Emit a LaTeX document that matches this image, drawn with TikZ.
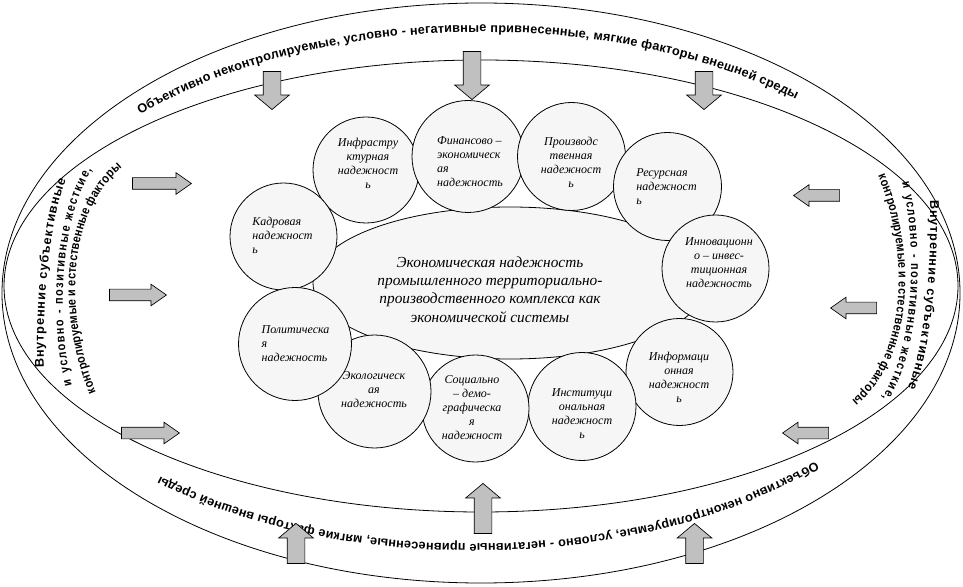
\documentclass[tikz,border=0pt]{standalone}
\usepackage{fontspec}
\setmainfont{Liberation Serif}
\newfontfamily\outerfont{Liberation Sans}
\newfontfamily\outernarrow{Liberation Sans}[FakeStretch=0.86]
\usepackage{tikz}
\usetikzlibrary{positioning,shapes.geometric,shapes.arrows,decorations.text}
\definecolor{ovalgray}{RGB}{246,246,246}
\definecolor{arrowgray}{RGB}{192,192,192}
\newcommand\rimfont{\outerfont\bfseries\fontsize{9.5}{11}\selectfont}
\newcommand\rimnarrow{\outernarrow\bfseries\fontsize{9.5}{11}\selectfont}

\begin{document}
\begin{tikzpicture}[x=0.75pt, y=0.75pt,
    rim/.style={line width=0.6pt},
    rimtext/.style 2 args={decorate, decoration={text along path, text align=fit to path, text={|#1|#2}}},
    coreoval/.style={ellipse, draw, line width=0.6pt, fill=ovalgray, inner sep=0pt, minimum width=295.5pt, minimum height=114pt},
    oval/.style={circle, draw, line width=0.6pt, fill=ovalgray, inner sep=0pt, minimum size=#1},
    lbl/.style={font=\itshape\fontsize{9}{10.5}\selectfont, align=center, inner sep=0pt},
    coretext/.style={font=\itshape\fontsize{11.5}{13.7}\selectfont, align=center, inner sep=0pt},
    vblock/.style={single arrow, draw, line width=0.5pt, fill=arrowgray, inner xsep=0pt, inner ysep=6.375pt, anchor=tip,
        single arrow head extend=6.375pt, single arrow tip angle=100, minimum height=#1},
    hblock/.style={single arrow, draw, line width=0.5pt, fill=arrowgray, inner xsep=0pt, inner ysep=4.125pt, anchor=tip,
        single arrow head extend=3.75pt, single arrow tip angle=70, minimum height=#1}]
  \useasboundingbox (0,0) rectangle (963,586);

  \draw[rim] (481,293) ellipse [x radius=359.25pt, y radius=217.5pt];
  \draw[rim] (481,300) ellipse [x radius=357.75pt, y radius=169.5pt];

  \path[rimtext={\rimfont}{Объективно неконтролируемые, условно - негативные привнесенные, мягкие факторы внешней среды}]
    (140.3,471) arc[start angle=137.3, end angle=47.7, x radius=348.75pt, y radius=193.5pt];
  \path[rimtext={\rimfont}{Объективно неконтролируемые, условно - негативные привнесенные, мягкие факторы внешней среды},
    rotate around={180:(478,298)}]
    (140.3,471) arc[start angle=137.3, end angle=47.7, x radius=348.75pt, y radius=193.5pt];

  \path[rimtext={\rimfont}{Внутренние субъективные}] (44,218) .. controls (42,286) and (50,366) .. (66,406);
  \path[rimtext={\rimnarrow}{и условно - позитивные жесткие,}] (72,201) .. controls (56,266) and (60,366) .. (92,416);
  \path[rimtext={\rimnarrow}{контролируемые и естественные факторы}] (96,194) .. controls (66,266) and (64,371) .. (122,418);
  \begin{scope}[rotate around={180:(487,302)}]
    \path[rimtext={\rimfont}{Внутренние субъективные}] (44,218) .. controls (42,286) and (50,366) .. (66,406);
    \path[rimtext={\rimnarrow}{и условно - позитивные жесткие,}] (72,201) .. controls (56,266) and (60,366) .. (92,416);
    \path[rimtext={\rimnarrow}{контролируемые и естественные факторы}] (96,194) .. controls (66,266) and (64,371) .. (122,418);
  \end{scope}

  \node[coreoval] (core) at (510,303) {};
  \node[coretext] (core-t) at (490,296.5) {Экономическая надежность\\промышленного территориально-\\производственного комплекса как\\экономической системы};

  \node[oval=79.5pt] (infra) at (366,416) {};
  \node[oval=80.25pt] (kadr) at (283.5,349.5) {};
  \node[oval=84pt] (fin) at (468,429.5) {};
  \node[oval=81pt] (proizv) at (571.5,429.5) {};
  \node[oval=81pt] (resurs) at (667.5,399.5) {};
  \node[oval=80.25pt] (innov) at (715.5,317.5) {};
  \node[oval=80.25pt] (inform) at (679.5,214) {};
  \node[oval=81pt] (instit) at (582,179.5) {};
  \node[oval=80.25pt] (social) at (475.5,177.5) {};
  \node[oval=84.75pt] (ecolog) at (374.5,194.5) {};
  \node[oval=84.75pt] (polit) at (295,242) {};

  \node[lbl, align=left] (kadr-t) at (282.5,351) {Кадровая\\надежност\\ь};
  \node[lbl] (infra-t) at (368,423) {Инфрастру\\ктурная\\надежност\\ь};
  \node[lbl, align=left] (fin-t) at (470,424.5) {Финансово –\\экономическ\\ая\\надежность};
  \node[lbl] (proizv-t) at (571,424) {Производс\\твенная\\надежност\\ь};
  \node[lbl, align=left] (resurs-t) at (666.5,399.5) {Ресурсная\\надежност\\ь};
  \node[lbl] (innov-t) at (719,323) {Инновационн\\о – инвес-\\тиционная\\надежность};
  \node[lbl] (inform-t) at (679,209) {Информаци\\онная\\надежност\\ь};
  \node[lbl] (instit-t) at (582,172.5) {Институци\\ональная\\надежност\\ь};
  \node[lbl] (social-t) at (472,178) {Социально\\– демо-\\графическа\\я\\надежност};
  \node[lbl] (ecolog-t) at (374,196.5) {Экологическ\\ая\\надежность};
  \node[lbl, align=left] (polit-t) at (295.5,242) {Политическа\\я\\надежность};

  \node[vblock=28.5pt, rotate=-90] (top-l) at (272,476) {};
  \node[vblock=36pt, rotate=-90] (top-c) at (472,486) {};
  \node[vblock=28.5pt, rotate=-90] (top-r) at (704,476) {};
  \node[vblock=30pt, rotate=90] (bot-l) at (296,63) {};
  \node[vblock=37.5pt, rotate=90] (bot-c) at (483,103) {};
  \node[vblock=30pt, rotate=90] (bot-r) at (694.5,63) {};
  \node[hblock=44.25pt] (left-a) at (192,402.5) {};
  \node[hblock=42.75pt] (left-b) at (167,291) {};
  \node[hblock=43.5pt] (left-c) at (180,153) {};
  \node[hblock=34.5pt, rotate=180] (right-a) at (793,390.5) {};
  \node[hblock=34.5pt, rotate=180] (right-b) at (830,278) {};
  \node[hblock=34.5pt, rotate=180] (right-c) at (782,153) {};
\end{tikzpicture}
\end{document}
